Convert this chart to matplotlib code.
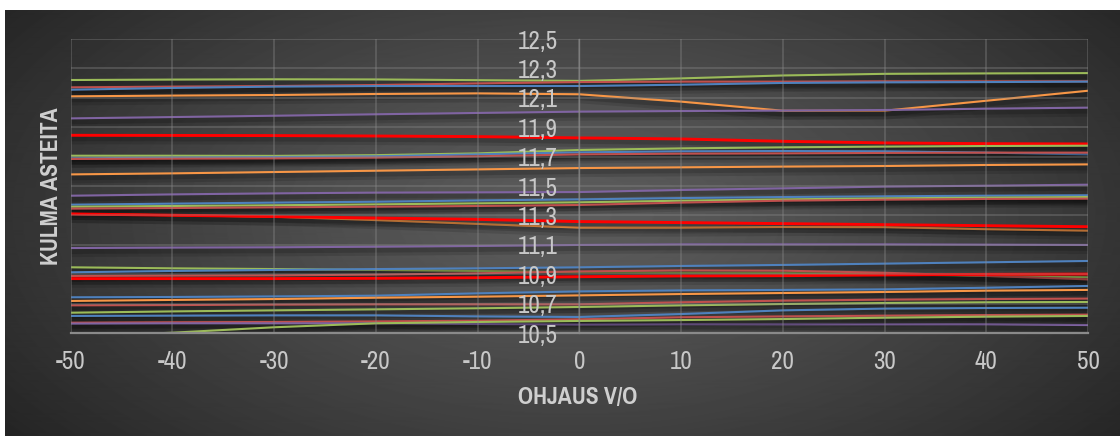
import numpy as np
import matplotlib
matplotlib.use("Agg")
import matplotlib.pyplot as plt
import matplotlib.patheffects as pe
from matplotlib import font_manager as fm

available = set(f.name for f in fm.fontManager.ttflist)
prefs = ['Liberation Sans Narrow', 'Arial Narrow', 'Pragati Narrow', 'PT Sans Narrow',
         'Archivo Narrow', 'Roboto Condensed', 'Liberation Sans', 'DejaVu Sans']
fams = [f for f in prefs if f in available] or ['DejaVu Sans']
plt.rcParams['font.family'] = fams

# ---------------- data ----------------
x_vals = [-50, -40, -30, -20, -10, 0, 10, 20, 30, 40, 50]
y_ticks = [10.5, 10.7, 10.9, 11.1, 11.3, 11.5, 11.7, 11.9, 12.1, 12.3, 12.5]
x_ticks = [-50, -40, -30, -20, -10, 0, 10, 20, 30, 40, 50]

g1 = [12.221, 12.224, 12.226, 12.225, 12.220, 12.215, 12.232, 12.252, 12.263, 12.266, 12.268]
r1 = [12.171, 12.176, 12.180, 12.187, 12.198, 12.207, 12.210, 12.210, 12.212, 12.212, 12.212]
b1 = [12.155, 12.167, 12.176, 12.180, 12.180, 12.180, 12.189, 12.201, 12.205, 12.207, 12.210]
o1 = [12.110, 12.115, 12.119, 12.126, 12.130, 12.124, 12.074, 12.012, 12.012, 12.080, 12.148]
p1 = [11.960, 11.969, 11.978, 11.988, 11.997, 12.006, 12.010, 12.013, 12.017, 12.026, 12.033]
br1 = [11.845, 11.844, 11.843, 11.840, 11.836, 11.827, 11.820, 11.804, 11.793, 11.788, 11.786]

g2 = [11.706, 11.706, 11.705, 11.710, 11.722, 11.745, 11.756, 11.763, 11.768, 11.772, 11.774]
b2 = [11.688, 11.693, 11.697, 11.702, 11.715, 11.729, 11.736, 11.738, 11.736, 11.727, 11.715]
r2 = [11.684, 11.686, 11.688, 11.693, 11.702, 11.715, 11.720, 11.722, 11.725, 11.727, 11.727]
o2 = [11.579, 11.586, 11.595, 11.604, 11.613, 11.622, 11.627, 11.632, 11.636, 11.643, 11.647]
p2 = [11.434, 11.443, 11.450, 11.455, 11.457, 11.459, 11.473, 11.484, 11.496, 11.502, 11.509]

b3 = [11.373, 11.380, 11.387, 11.393, 11.402, 11.409, 11.418, 11.425, 11.430, 11.434, 11.437]
g3 = [11.359, 11.364, 11.369, 11.375, 11.382, 11.389, 11.400, 11.409, 11.416, 11.421, 11.425]
r3 = [11.346, 11.350, 11.355, 11.359, 11.364, 11.371, 11.387, 11.400, 11.407, 11.412, 11.414]
br2 = [11.310, 11.301, 11.292, 11.282, 11.273, 11.258, 11.251, 11.244, 11.237, 11.230, 11.223]
o3 = [11.310, 11.301, 11.291, 11.268, 11.242, 11.217, 11.217, 11.221, 11.220, 11.206, 11.196]
p3 = [11.078, 11.081, 11.083, 11.087, 11.092, 11.099, 11.103, 11.103, 11.103, 11.101, 11.099]

g4 = [10.947, 10.940, 10.935, 10.929, 10.922, 10.913, 10.910, 10.908, 10.901, 10.888, 10.879]
b4 = [10.913, 10.922, 10.929, 10.935, 10.940, 10.947, 10.956, 10.963, 10.972, 10.981, 10.990]
r4 = [10.888, 10.890, 10.892, 10.897, 10.906, 10.919, 10.926, 10.924, 10.910, 10.888, 10.865]
br3 = [10.870, 10.870, 10.870, 10.872, 10.876, 10.883, 10.888, 10.890, 10.895, 10.899, 10.901]

b5 = [10.743, 10.745, 10.749, 10.754, 10.770, 10.783, 10.790, 10.793, 10.797, 10.808, 10.820]
o5 = [10.718, 10.725, 10.731, 10.740, 10.747, 10.756, 10.765, 10.772, 10.779, 10.788, 10.793]
r5 = [10.688, 10.690, 10.693, 10.695, 10.695, 10.695, 10.709, 10.720, 10.727, 10.731, 10.734]
g5 = [10.638, 10.647, 10.654, 10.661, 10.668, 10.677, 10.688, 10.697, 10.704, 10.709, 10.711]
b6 = [10.616, 10.618, 10.620, 10.620, 10.613, 10.609, 10.629, 10.654, 10.666, 10.670, 10.672]
r6 = [10.570, 10.573, 10.575, 10.579, 10.584, 10.593, 10.607, 10.613, 10.618, 10.622, 10.625]
p5 = [10.564, 10.566, 10.566, 10.566, 10.561, 10.557, 10.559, 10.559, 10.559, 10.559, 10.554]
g6 = [10.475, 10.502, 10.539, 10.566, 10.575, 10.582, 10.588, 10.595, 10.604, 10.611, 10.616]

GREEN, RED, BLUE, ORANGE, PURPLE, BRED = '#9BBB59', '#C0504D', '#4F81BD', '#F79646', '#8064A2', '#FF0000'

series = [
    (g1, GREEN), (r1, RED), (b1, BLUE), (o1, ORANGE), (p1, PURPLE), (br1, BRED),
    (g2, GREEN), (b2, BLUE), (r2, RED), (o2, ORANGE), (p2, PURPLE),
    (b3, BLUE), (g3, GREEN), (r3, RED), (o3, ORANGE), (br2, BRED), (p3, PURPLE),
    (g4, GREEN), (b4, BLUE), (r4, RED), (br3, BRED),
    (b5, BLUE), (o5, ORANGE), (r5, RED), (g5, GREEN), (b6, BLUE), (r6, RED),
    (p5, PURPLE), (g6, GREEN),
]

# ---------------- figure ----------------
W, H = 1120, 436
fig = plt.figure(figsize=(W / 100, H / 100), dpi=100)
fig.patch.set_facecolor('white')

# dark radial-gradient background panel
bg = fig.add_axes([5 / W, 0, 1 - 5 / W, 1 - 10 / H], zorder=0)
bw, bh = W - 5, H - 10
yy, xx = np.mgrid[0:bh, 0:bw]
cx, cy = 575 - 5, 215 - 10
r = np.sqrt(((xx - cx) / 640.0) ** 2 + ((yy - cy) / 330.0) ** 2)
val = 0.36 - 0.19 * np.clip(r, 0, 1.2) ** 1.3
bg.imshow(val, cmap='gray', vmin=0, vmax=1, aspect='auto', interpolation='bilinear')
bg.set_axis_off()

left, right, top, bottom = 70.7, 1088.0, 39.0, 333.0
ax = fig.add_axes([left / W, (H - bottom) / H, (right - left) / W, (bottom - top) / H], zorder=1)
ax.set_facecolor('none')

shadow = [pe.SimpleLineShadow(offset=(0.5, -3.0), shadow_color='black', alpha=0.12, linewidth=7),
          pe.SimpleLineShadow(offset=(0.5, -2.5), shadow_color='black', alpha=0.16, linewidth=3.5),
          pe.Normal()]

for ys, col in series:
    lw = 2.1 if col == BRED else 1.5
    ax.plot(x_vals, ys, color=col, lw=lw, solid_capstyle='butt', path_effects=shadow, zorder=2)

ax.set_xlim(-50, 50)
ax.set_ylim(10.5, 12.5)
ax.set_xticks(x_ticks)
ax.set_yticks(y_ticks)
ax.set_xticklabels([str(v) for v in x_ticks])
ax.set_yticklabels([f"{v:.1f}".replace('.', ',') for v in y_ticks])

ax.grid(True, color='#8c8c8c', alpha=0.4, lw=1.2, zorder=1)
ax.set_axisbelow(False)
for s in ['top', 'right']:
    ax.spines[s].set_visible(False)
ax.spines['left'].set_position(('data', 0))
ax.spines['left'].set_color('#8a8a8a')
ax.spines['left'].set_linewidth(1.0)
ax.spines['left'].set_alpha(0.7)
ax.spines['bottom'].set_color('#8a8a8a')
ax.spines['bottom'].set_linewidth(1.6)

ax.tick_params(axis='both', length=0, labelsize=19.5, labelcolor='#c8c8c8')
ax.tick_params(axis='y', pad=15.5)
ax.tick_params(axis='x', pad=12.5)

fig.text(578 / W, 1 - 397 / H, 'OHJAUS V/O', ha='center', va='center',
         fontsize=18.5, fontweight='bold', color='#cfcfcf')
fig.text(52 / W, 1 - 186 / H, 'KULMA ASTEITA', ha='center', va='center', rotation=90,
         fontsize=18.5, fontweight='bold', color='#cfcfcf')

fig.savefig('out.png', dpi=100, facecolor=fig.get_facecolor())
